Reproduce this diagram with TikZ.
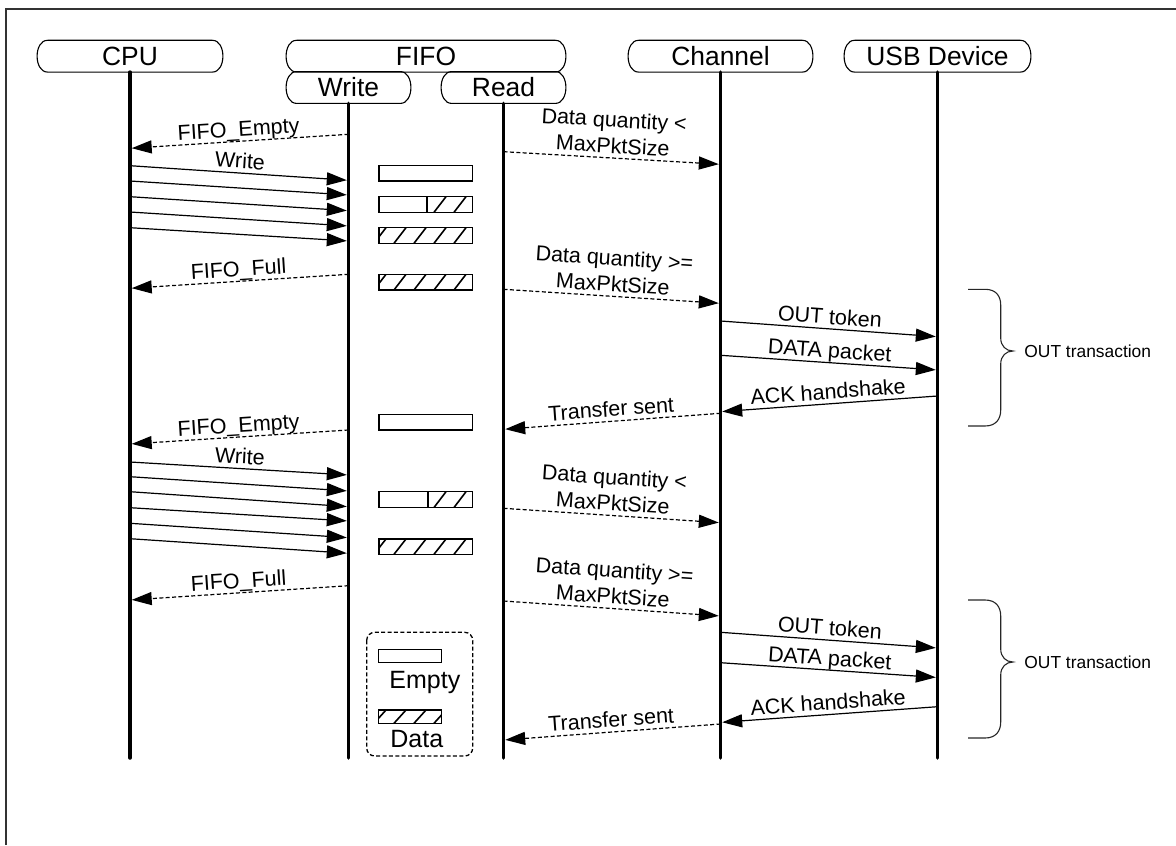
\documentclass[tikz,border=0pt]{standalone}
\usepackage{fontspec}
\setmainfont{Liberation Sans}
\usetikzlibrary{arrows.meta,calc}

\newcommand\termbox[1]{\draw[hdrline] ($(#1.north west)+(11,0)$) -- ($(#1.north east)+(-11,0)$) .. controls ($(#1.north east)+(3,0)$) and ($(#1.south east)+(3,0)$) .. ($(#1.south east)+(-11,0)$) -- ($(#1.south west)+(11,0)$) .. controls ($(#1.south west)+(-3,0)$) and ($(#1.north west)+(-3,0)$) .. cycle;}
\newcommand\hatchcell[4]{%
  \begin{scope}
    \clip (#1,#2) rectangle (#3,#4);
    \foreach \k in {0,...,6}{\draw[hatchln] ({354+20*\k},#4) -- ({366+20*\k},#2);}
  \end{scope}}

\begin{document}
\begin{tikzpicture}[x=0.5pt,y=-0.5pt,
  hdr/.style={draw=none, minimum height=15.5pt, inner sep=0pt, font=\fontsize{13.2}{15}\selectfont},
  hdrline/.style={line width=0.55pt},
  life/.style={line width=1.75pt, line cap=round},
  msg/.style={line width=0.6pt, -{Triangle[length=10pt,width=6.5pt]}, shorten >=0.85pt},
  reply/.style={msg, dash pattern=on 2pt off 1.2pt},
  lbl/.style={above, sloped, inner sep=0pt, outer sep=0pt, text depth=2.4pt, font=\fontsize{10.75}{13}\selectfont, align=center},
  cellbox/.style={line width=0.65pt},
  hatchln/.style={line width=0.8pt},
  bracestyle/.style={line width=0.55pt, black!85},
  framestyle/.style={line width=0.9pt, black!80},
  legtext/.style={font=\fontsize{12.5}{14}\selectfont, inner sep=0pt, anchor=base west},
  otext/.style={font=\fontsize{8.7}{10}\selectfont, inner sep=0pt, anchor=west},
]
\useasboundingbox (0,0) rectangle (1176,845);

% frame
\draw[framestyle] (6,845) -- (6,9) -- (1176,9);

% headers
\node[hdr, minimum width=93pt] (cpu) at (130,56.2) {CPU};
\node[hdr, minimum width=140pt] (fifo) at (426,56.2) {FIFO};
\node[hdr, minimum width=62.5pt] (wr) at (348.5,87.5) {Write};
\node[hdr, minimum width=62.5pt] (rd) at (503.5,87.5) {Read};
\node[hdr, minimum width=92.5pt] (ch) at (720.5,56.2) {Channel};
\node[hdr, minimum width=93.5pt] (usb) at (937.5,56.2) {USB Device};
\termbox{cpu}\termbox{fifo}\termbox{wr}\termbox{rd}\termbox{ch}\termbox{usb}

% lifelines
\coordinate (cpuE) at (130,758);
\coordinate (wrE) at (348.5,758);
\coordinate (rdE) at (503.5,758);
\coordinate (chE) at (720.5,758);
\coordinate (usbE) at (937.5,758);
\draw[life] (cpu.south) -- (cpuE);
\draw[life] (wr.south) -- (wrE);
\draw[life] (rd.south) -- (rdE);
\draw[life] (ch.south) -- (chE);
\draw[life] (usb.south) -- (usbE);

% ---- group 1
\draw[reply] (wr |- 0,134.3) -- (cpu |- 0,148.3) node[lbl,midway]{FIFO\_Empty};
\draw[msg] (cpu |- 0,165.7) -- (wr |- 0,180.3) node[lbl,midway]{Write};
\draw[msg] (cpu |- 0,181) -- (wr |- 0,195);
\draw[msg] (cpu |- 0,196.7) -- (wr |- 0,210.7);
\draw[msg] (cpu |- 0,212) -- (wr |- 0,226);
\draw[msg] (cpu |- 0,227.7) -- (wr |- 0,241);
\draw[reply] (wr |- 0,274.3) -- (cpu |- 0,288.3) node[lbl,midway]{FIFO\_Full};
\draw[reply] (rd |- 0,151.7) -- (ch |- 0,164.3) node[lbl,midway]{Data quantity <\\MaxPktSize};
\draw[reply] (rd |- 0,289.3) -- (ch |- 0,303.3) node[lbl,midway]{Data quantity >=\\MaxPktSize};
\draw[msg] (ch |- 0,321) -- (usb |- 0,336.7) node[lbl,midway]{OUT token};
\draw[msg] (ch |- 0,355.3) -- (usb |- 0,370) node[lbl,midway]{DATA packet};
\draw[msg] (usb |- 0,396) -- (ch |- 0,411.7) node[lbl,midway]{ACK handshake};
\draw[reply] (ch |- 0,413.3) -- (rd |- 0,429.3) node[lbl,midway]{Transfer sent};

% ---- group 2
\draw[reply] (wr |- 0,430) -- (cpu |- 0,444) node[lbl,midway]{FIFO\_Empty};
\draw[msg] (cpu |- 0,462) -- (wr |- 0,475) node[lbl,midway]{Write};
\draw[msg] (cpu |- 0,476.7) -- (wr |- 0,491);
\draw[msg] (cpu |- 0,491.7) -- (wr |- 0,506.7);
\draw[msg] (cpu |- 0,507.7) -- (wr |- 0,521);
\draw[msg] (cpu |- 0,523.3) -- (wr |- 0,537.7);
\draw[msg] (cpu |- 0,538.7) -- (wr |- 0,553.3);
\draw[reply] (wr |- 0,585.7) -- (cpu |- 0,600) node[lbl,midway]{FIFO\_Full};
\draw[reply] (rd |- 0,508.3) -- (ch |- 0,522.7) node[lbl,midway]{Data quantity <\\MaxPktSize};
\draw[reply] (rd |- 0,601) -- (ch |- 0,616) node[lbl,midway]{Data quantity >=\\MaxPktSize};
\draw[msg] (ch |- 0,632.3) -- (usb |- 0,648) node[lbl,midway]{OUT token};
\draw[msg] (ch |- 0,662.7) -- (usb |- 0,677.5) node[lbl,midway]{DATA packet};
\draw[msg] (usb |- 0,706.7) -- (ch |- 0,722.4) node[lbl,midway]{ACK handshake};
\draw[reply] (ch |- 0,724) -- (rd |- 0,740) node[lbl,midway]{Transfer sent};

% ---- FIFO cells
\draw[cellbox] (379,165.7) rectangle (472.3,181);
\hatchcell{427}{196.7}{472.3}{212.3}
\draw[cellbox] (379,196.7) rectangle (472.3,212.3);
\draw[cellbox] (427,196.7) -- (427,212.3);
\hatchcell{379}{227.7}{472.3}{243.3}
\draw[cellbox] (379,227.7) rectangle (472.3,243.3);
\hatchcell{379}{274.3}{472.3}{290}
\draw[cellbox] (379,274.3) rectangle (472.3,290);
\draw[cellbox] (379,414.3) rectangle (472.3,430);
\hatchcell{428}{491.7}{472.3}{507.5}
\draw[cellbox] (379,491.7) rectangle (472.3,507.5);
\draw[cellbox] (428,491.7) -- (428,507.5);
\hatchcell{379}{539}{472.3}{554.3}
\draw[cellbox] (379,539) rectangle (472.3,554.3);

% ---- braces
\draw[bracestyle] (968,289.3) -- (985,289.3) .. controls (996,289.3) and (1000.7,296) .. (1000.7,305) -- (1000.7,338) .. controls (1000.7,346) and (1006,351) .. (1013,351) .. controls (1006,351) and (1000.7,356) .. (1000.7,364) -- (1000.7,410) .. controls (1000.7,419) and (996,426) .. (985,426) -- (968,426);
\node[otext] (ot1) at (1024,351) {OUT transaction};
\draw[bracestyle] (968,600) -- (985,600) .. controls (996,600) and (1000.7,607) .. (1000.7,616) -- (1000.7,649) .. controls (1000.7,657) and (1006,662) .. (1013,662) .. controls (1006,662) and (1000.7,667) .. (1000.7,675) -- (1000.7,722) .. controls (1000.7,731) and (996,738) .. (985,738) -- (968,738);
\node[otext] (ot2) at (1024,662) {OUT transaction};

% ---- legend
\draw[cellbox, dash pattern=on 2pt off 1.2pt, rounded corners=4pt] (366.7,632.3) rectangle (472.7,756);
\draw[cellbox] (378.3,649.3) rectangle (441.7,662.7);
\node[legtext] (legE) at (389,688) {Empty};
\hatchcell{378.3}{710}{441.7}{723.3}
\draw[cellbox] (378.3,710) rectangle (441.7,723.3);
\node[legtext] (legD) at (390,747) {Data};
\end{tikzpicture}
\end{document}
